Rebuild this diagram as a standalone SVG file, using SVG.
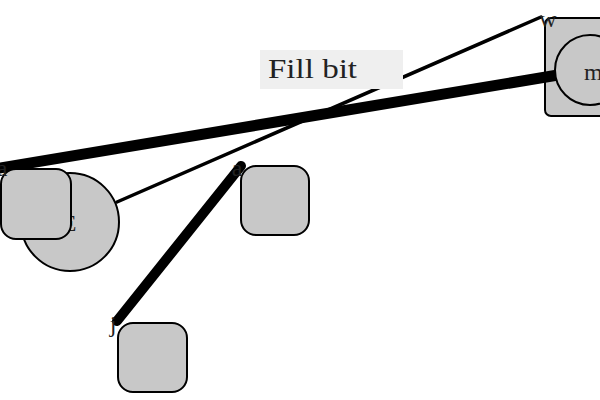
<svg xmlns="http://www.w3.org/2000/svg" width="600" height="400" viewBox="0 0 600 400">
<style>
.node{fill:#c8c8c8;stroke:#000;stroke-width:2}
.lbl{font-family:"Liberation Serif","DejaVu Serif",serif;font-size:24px;fill:#222}
.edge{stroke:#000;fill:none;stroke-linecap:round}
</style>
<rect width="600" height="400" fill="#fff"/>
<g id="connectors-back">
<line class="edge" x1="117" y1="202" x2="541" y2="17" stroke-width="3.5"/>
</g>
<g id="node-E">
<circle class="node" cx="70" cy="222" r="49"/>
<text class="lbl" x="69" y="231" text-anchor="middle" font-size="20">E</text>
</g>
<g id="node-w">
<rect class="node" x="545" y="18" width="98" height="98" rx="6"/>
<text class="lbl" x="548" y="27" text-anchor="middle">w</text>
</g>
<g id="connectors">
<line class="edge" x1="-5" y1="168.8" x2="558" y2="75" stroke-width="11" stroke-linecap="butt"/>
<line class="edge" x1="241" y1="166" x2="117" y2="321" stroke-width="10"/>
</g>
<g id="node-m">
<circle class="node" cx="590" cy="70" r="35"/>
<text class="lbl" x="584" y="80" font-size="28">m</text>
</g>
<g id="node-a0">
<rect class="node" x="1" y="169" width="70" height="70" rx="15"/>
<text class="lbl" x="2" y="176" text-anchor="middle" font-size="20">a</text>
</g>
<g id="node-a">
<rect class="node" x="241" y="166" width="68" height="69" rx="15"/>
<text class="lbl" x="237" y="176" text-anchor="middle" font-size="20">a</text>
</g>
<g id="node-j">
<rect class="node" x="118" y="323" width="69" height="69" rx="15"/>
<text class="lbl" x="113" y="332" text-anchor="middle">j</text>
</g>
<g id="label-fill">
<rect x="260" y="50" width="143" height="39" fill="#efefef"/>
<text x="268" y="78" font-family="Liberation Serif, DejaVu Serif, serif" font-size="28" fill="#222" textLength="89" lengthAdjust="spacingAndGlyphs">Fill bit</text>
</g>
</svg>
